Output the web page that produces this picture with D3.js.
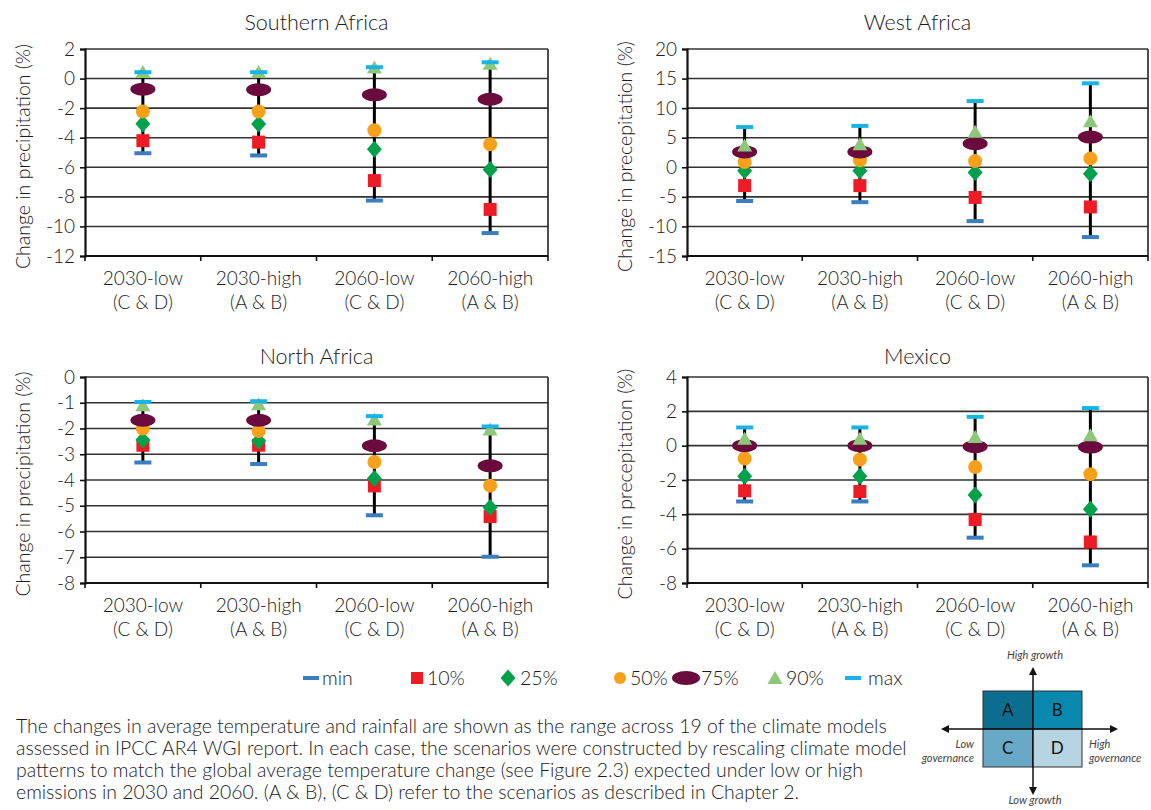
<!DOCTYPE html>
<html><head><meta charset="utf-8">
<script src="https://cdn.jsdelivr.net/npm/d3@7/dist/d3.min.js"></script>
<style>
html,body{margin:0;padding:0;background:#fff;}
svg{display:block;font-family:Lato,"Open Sans",sans-serif;}
</style></head>
<body>
<svg id="chart" width="1151" height="810"></svg>
<script>
// ---------- DATA ----------
const categoriesLine1 = ["2030-low", "2030-high", "2060-low", "2060-high"];
const categoriesLine2 = ["(C & D)", "(A & B)", "(C & D)", "(A & B)"];
const categories = categoriesLine1;

const seriesNames = ["min", "10%", "25%", "50%", "75%", "90%", "max"];

// Southern Africa
const saMin = [-5.05, -5.2, -8.25, -10.45];
const sa10 = [-4.2, -4.3, -6.9, -8.85];
const sa25 = [-3.05, -3.07, -4.78, -6.15];
const sa50 = [-2.23, -2.23, -3.5, -4.45];
const sa75 = [-0.72, -0.75, -1.1, -1.4];
const sa90 = [0.45, 0.45, 0.75, 1.0];
const saMax = [0.43, 0.43, 0.77, 1.1];
const saTicks = [-12, -10, -8, -6, -4, -2, 0, 2];

// West Africa
const waMin = [-5.7, -5.9, -9.1, -11.8];
const wa10 = [-3.1, -3.1, -5.1, -6.7];
const wa25 = [-0.6, -0.6, -0.9, -1.1];
const wa50 = [0.9, 1.2, 1.05, 1.5];
const wa75 = [2.6, 2.6, 4.0, 5.1];
const wa90 = [3.7, 3.9, 6.0, 7.8];
const waMax = [6.8, 7.0, 11.2, 14.2];
const waTicks = [-15, -10, -5, 0, 5, 10, 15, 20];

// North Africa
const naMin = [-3.32, -3.38, -5.37, -6.98];
const na10 = [-2.65, -2.65, -4.23, -5.42];
const na25 = [-2.45, -2.49, -3.94, -5.07];
const na50 = [-2.0, -2.1, -3.3, -4.22];
const na75 = [-1.68, -1.68, -2.67, -3.45];
const na90 = [-1.1, -1.06, -1.65, -2.04];
const naMax = [-0.97, -0.94, -1.52, -1.92];
const naTicks = [-8, -7, -6, -5, -4, -3, -2, -1, 0];

// Mexico
const mxMin = [-3.25, -3.25, -5.36, -6.97];
const mx10 = [-2.63, -2.67, -4.3, -5.61];
const mx25 = [-1.78, -1.78, -2.88, -3.7];
const mx50 = [-0.75, -0.81, -1.24, -1.66];
const mx75 = [0.0, 0.0, -0.06, -0.08];
const mx90 = [0.4, 0.4, 0.5, 0.6];
const mxMax = [1.06, 1.06, 1.68, 2.19];
const mxTicks = [-8, -6, -4, -2, 0, 2, 4];

const captionLines = [
  "The changes in average temperature and rainfall are shown as the range across 19 of the climate models",
  "assessed in IPCC AR4 WGI report. In each case, the scenarios were constructed by rescaling climate model",
  "patterns to match the global average temperature change (see Figure 2.3) expected under low or high",
  "emissions in 2030 and 2060. (A & B), (C & D) refer to the scenarios as described in Chapter 2."
];

const quadrantLetters = ["A", "B", "C", "D"];
const quadrantColors = ["#0b6d8f", "#0a89b0", "#68a9c7", "#b6d4e2"];

// ---------- STYLE ----------
const colors = {
  "min": "#3a7dc3", "10%": "#ed1c24", "25%": "#00a14b", "50%": "#f7a11b",
  "75%": "#6b0a3c", "90%": "#8dc87a", "max": "#19b4e6"
};
const textColor = "#1e1a1b";

const svg = d3.select("#chart");

function markerPath(name, cx, cy) {
  switch (name) {
    case "min": case "max":
      return `M${cx-8.5},${cy-2}h17v4h-17z`;
    case "10%":
      return `M${cx-6.5},${cy-6.5}h13v13h-13z`;
    case "25%":
      return `M${cx},${cy-8.5}L${cx+7.5},${cy}L${cx},${cy+8.5}L${cx-7.5},${cy}Z`;
    case "50%":
      return `M${cx-7},${cy}a7,7 0 1,0 14,0a7,7 0 1,0 -14,0Z`;
    case "75%":
      return `M${cx-12.5},${cy}a12.5,6.5 0 1,0 25,0a12.5,6.5 0 1,0 -25,0Z`;
    case "90%":
      return `M${cx},${cy-7}L${cx+7.5},${cy+6}L${cx-7.5},${cy+6}Z`;
  }
}

const panels = [
  { title: "Southern Africa", ylabel: "Change in precipitation (%)", ticks: saTicks,
    series: [saMin, sa10, sa25, sa50, sa75, sa90, saMax],
    left: 85, right: 548, top: 49, bottom: 256, titleY: 30, labelX: 22 },
  { title: "West Africa", ylabel: "Change in precepitation (%)", ticks: waTicks,
    series: [waMin, wa10, wa25, wa50, wa75, wa90, waMax],
    left: 687, right: 1148, top: 49, bottom: 256, titleY: 30, labelX: 624 },
  { title: "North Africa", ylabel: "Change in precipitation (%)", ticks: naTicks,
    series: [naMin, na10, na25, na50, na75, na90, naMax],
    left: 85, right: 548, top: 377, bottom: 583, titleY: 364, labelX: 22 },
  { title: "Mexico", ylabel: "Change in precepitation (%)", ticks: mxTicks,
    series: [mxMin, mx10, mx25, mx50, mx75, mx90, mxMax],
    left: 687, right: 1148, top: 377, bottom: 583, titleY: 364, labelX: 624 }
];

panels.forEach(p => {
  const g = svg.append("g");
  const x = d3.scaleBand().domain(categories).range([p.left, p.right]).padding(0);
  const y = d3.scaleLinear().domain(d3.extent(p.ticks)).range([p.bottom, p.top]);

  // gridlines
  g.append("g").selectAll("line").data(p.ticks).join("line")
    .attr("x1", p.left).attr("x2", p.right)
    .attr("y1", d => y(d)).attr("y2", d => y(d))
    .attr("stroke", "#333").attr("stroke-width", 1.6);
  // right border
  g.append("line").attr("x1", p.right).attr("x2", p.right)
    .attr("y1", p.top).attr("y2", p.bottom).attr("stroke", "#222").attr("stroke-width", 1.6);

  // y axis
  const yAxis = g.append("g").attr("transform", `translate(${p.left},0)`)
    .call(d3.axisLeft(y).tickValues(p.ticks).tickSize(5).tickPadding(5));
  yAxis.select(".domain").attr("stroke", "#111").attr("stroke-width", 2.2);
  yAxis.selectAll(".tick line").attr("stroke", "#111").attr("stroke-width", 1.6);
  yAxis.selectAll(".tick text").attr("font-size", 19).attr("fill", textColor)
    .attr("font-family", "Lato,sans-serif").attr("font-weight", 300)
    .text(d => d < 0 ? "-" + Math.abs(d) : d);

  // x axis baseline and boundary ticks
  g.append("line").attr("x1", p.left).attr("x2", p.right)
    .attr("y1", p.bottom).attr("y2", p.bottom).attr("stroke", "#111").attr("stroke-width", 2.2);
  const bounds = categories.map(c => x(c)).concat([x(categories[categories.length - 1]) + x.bandwidth()]);
  g.append("g").selectAll("line").data(bounds).join("line")
    .attr("x1", d => d).attr("x2", d => d)
    .attr("y1", p.bottom).attr("y2", p.bottom + 5)
    .attr("stroke", "#111").attr("stroke-width", 1.6);

  // x labels
  const xl = g.append("g").selectAll("text").data(categories).join("text")
    .attr("x", d => x(d) + x.bandwidth() / 2).attr("y", p.bottom + 29)
    .attr("text-anchor", "middle").attr("font-size", 19).attr("font-weight", 300).attr("fill", textColor);
  xl.append("tspan").text(d => d);
  xl.append("tspan").attr("x", d => x(d) + x.bandwidth() / 2).attr("dy", 24)
    .text((d, i) => categoriesLine2[i]);

  // title
  g.append("text").attr("x", (p.left + p.right) / 2).attr("y", p.titleY)
    .attr("text-anchor", "middle").attr("font-size", 21.5).attr("font-weight", 300)
    .attr("fill", textColor).text(p.title);

  // y label
  g.append("text").attr("transform", `translate(${p.labelX},${(p.top + p.bottom) / 2 + 4}) rotate(-90)`)
    .attr("text-anchor", "middle").attr("dominant-baseline", "central")
    .attr("font-size", 19.5).attr("font-weight", 300).attr("fill", textColor).text(p.ylabel);

  // range lines
  const minS = p.series[0], maxS = p.series[6];
  g.append("g").selectAll("line").data(categories).join("line")
    .attr("x1", d => x(d) + x.bandwidth() / 2).attr("x2", d => x(d) + x.bandwidth() / 2)
    .attr("y1", (d, i) => y(minS[i])).attr("y2", (d, i) => y(maxS[i]))
    .attr("stroke", "#000").attr("stroke-width", 3);

  // markers in series order
  seriesNames.forEach((name, si) => {
    g.append("g").selectAll("path").data(categories).join("path")
      .attr("d", (d, i) => markerPath(name, x(d) + x.bandwidth() / 2, y(p.series[si][i])))
      .attr("fill", colors[name]);
  });
});

// ---------- LEGEND ----------
const legendItems = [
  { name: "min", sx: 311, tx: 322, label: "min" },
  { name: "10%", sx: 417, tx: 427, label: "10%" },
  { name: "25%", sx: 508, tx: 520, label: "25%" },
  { name: "50%", sx: 620, tx: 630, label: "50%" },
  { name: "75%", sx: 686, tx: 701, label: "75%" },
  { name: "90%", sx: 775, tx: 786, label: "90%" },
  { name: "max", sx: 853, tx: 868, label: "max" }
];
const lg = svg.append("g");
const ly = 678;
legendItems.forEach(it => {
  let d = markerPath(it.name, it.sx, ly);
  if (it.name === "min" || it.name === "max") d = `M${it.sx-8},${ly-2}h16v4h-16z`;
  if (it.name === "10%") d = `M${it.sx-6},${ly-6}h12v12h-12z`;
  if (it.name === "75%") d = `M${it.sx-14},${ly}a14,7 0 1,0 28,0a14,7 0 1,0 -28,0Z`;
  if (it.name === "50%") d = `M${it.sx-6},${ly}a6,6 0 1,0 12,0a6,6 0 1,0 -12,0Z`;
  lg.append("path").attr("d", d).attr("fill", colors[it.name]);
  lg.append("text").attr("x", it.tx).attr("y", ly + 7).attr("font-size", 19.5)
    .attr("font-weight", 300).attr("fill", textColor).text(it.label);
});

// ---------- CAPTION ----------
const cap = svg.append("g");
const capTexts = cap.selectAll("text").data(captionLines).join("text")
  .attr("x", 16).attr("y", (d, i) => 733 + i * 22)
  .attr("font-size", 17).attr("font-weight", 300).attr("fill", textColor)
  .text(d => d);
// fit the longest line to the reference width
const w2 = capTexts.nodes()[1].getComputedTextLength();
const capSize = 17 * 891 / w2;
capTexts.attr("font-size", capSize);

// ---------- SCENARIO DIAGRAM ----------
const dg = svg.append("g");
const qx = d3.scaleBand().domain([0, 1]).range([983, 1082]);
const qy = d3.scaleBand().domain([0, 1]).range([691, 767]);
quadrantLetters.forEach((L, i) => {
  const cx = i % 2, cy = Math.floor(i / 2);
  dg.append("rect").attr("x", qx(cx)).attr("y", qy(cy))
    .attr("width", qx.bandwidth()).attr("height", qy.bandwidth())
    .attr("fill", quadrantColors[i]).attr("stroke", "#333").attr("stroke-width", 1);
  dg.append("text").attr("x", qx(cx) + qx.bandwidth() / 2).attr("y", qy(cy) + qy.bandwidth() / 2 + 6)
    .attr("text-anchor", "middle").attr("font-size", 17).attr("fill", "#111").text(L);
});
const midX = 1033, midY = 729;
dg.append("line").attr("x1", midX).attr("x2", midX).attr("y1", 672).attr("y2", 790)
  .attr("stroke", "#111").attr("stroke-width", 1.5);
dg.append("line").attr("x1", 946).attr("x2", 1112).attr("y1", midY).attr("y2", midY)
  .attr("stroke", "#111").attr("stroke-width", 1.5);
dg.append("path").attr("d", `M${midX},667L${midX+4},675L${midX-4},675Z`).attr("fill", "#111");
dg.append("path").attr("d", `M${midX},795L${midX+4},787L${midX-4},787Z`).attr("fill", "#111");
dg.append("path").attr("d", `M941,${midY}L949,${midY-4}L949,${midY+4}Z`).attr("fill", "#111");
dg.append("path").attr("d", `M1118,${midY}L1110,${midY-4}L1110,${midY+4}Z`).attr("fill", "#111");
const it = (x, y, t, anchor) => dg.append("text").attr("x", x).attr("y", y)
  .attr("text-anchor", anchor).attr("font-size", 11).attr("font-style", "italic")
  .attr("fill", "#444").text(t);
it(1035, 659, "High growth", "middle");
it(1035, 804, "Low growth", "middle");
it(974, 748, "Low", "end");
it(974, 762, "governance", "end");
it(1089, 748, "High", "start");
it(1089, 762, "governance", "start");
</script>
</body></html>
